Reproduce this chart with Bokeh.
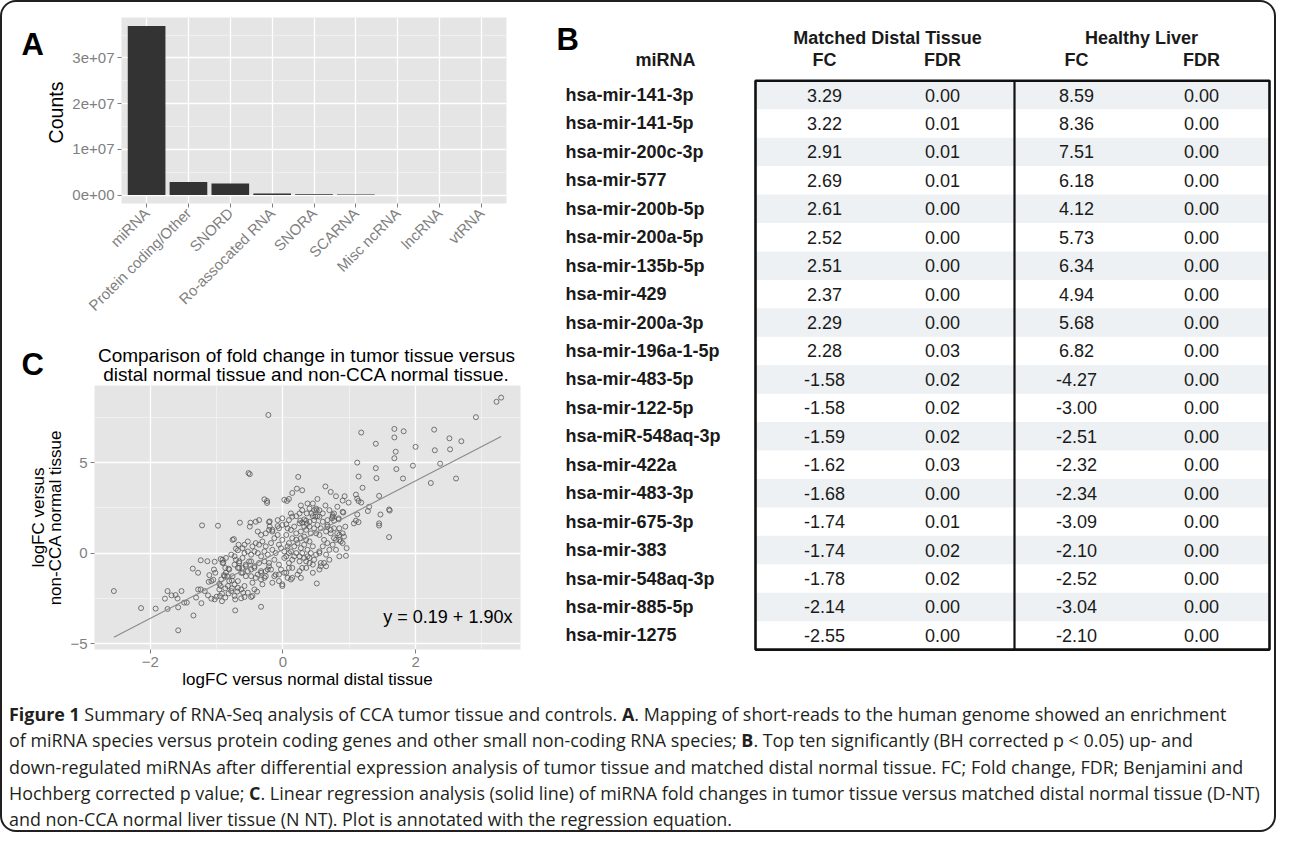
import math
from bokeh.plotting import figure
from bokeh.models import Range1d, FixedTicker, Label, Div
from bokeh.layouts import column, row
from bokeh.embed import file_html
from bokeh.resources import INLINE
from bokeh.core.properties import value

# ---------------- Panel A data ----------------
rna_classes = ["miRNA", "Protein coding/Other", "SNORD", "Ro-assocated RNA", "SNORA",
               "SCARNA", "Misc ncRNA", "lncRNA", "vtRNA"]
read_counts = [3.70e7, 2.86e6, 2.50e6, 3.5e5, 2.0e5, 1.0e5, 3.0e4, 2.5e4, 1.5e4]
count_ticks = [0, 1e7, 2e7, 3e7]
count_tick_labels = ["0e+00", "1e+07", "2e+07", "3e+07"]
count_minor_ticks = [0.5e7, 1.5e7, 2.5e7, 3.5e7]

# ---------------- Panel B data ----------------
table_groups = ["Matched Distal Tissue", "Healthy Liver"]
table_columns = ["miRNA", "FC", "FDR", "FC", "FDR"]
mirna = ["hsa-mir-141-3p", "hsa-mir-141-5p", "hsa-mir-200c-3p", "hsa-mir-577", "hsa-mir-200b-5p",
         "hsa-mir-200a-5p", "hsa-mir-135b-5p", "hsa-mir-429", "hsa-mir-200a-3p", "hsa-mir-196a-1-5p",
         "hsa-mir-483-5p", "hsa-mir-122-5p", "hsa-miR-548aq-3p", "hsa-mir-422a", "hsa-mir-483-3p",
         "hsa-mir-675-3p", "hsa-mir-383", "hsa-mir-548aq-3p", "hsa-mir-885-5p", "hsa-mir-1275"]
distal_fc = [3.29, 3.22, 2.91, 2.69, 2.61, 2.52, 2.51, 2.37, 2.29, 2.28,
             -1.58, -1.58, -1.59, -1.62, -1.68, -1.74, -1.74, -1.78, -2.14, -2.55]
distal_fdr = [0.00, 0.01, 0.01, 0.01, 0.00, 0.00, 0.00, 0.00, 0.00, 0.03,
              0.02, 0.02, 0.02, 0.03, 0.00, 0.01, 0.02, 0.02, 0.00, 0.00]
liver_fc = [8.59, 8.36, 7.51, 6.18, 4.12, 5.73, 6.34, 4.94, 5.68, 6.82,
            -4.27, -3.00, -2.51, -2.32, -2.34, -3.09, -2.10, -2.52, -3.04, -2.10]
liver_fdr = [0.00, 0.00, 0.00, 0.00, 0.00, 0.00, 0.00, 0.00, 0.00, 0.00,
             0.00, 0.00, 0.00, 0.00, 0.00, 0.00, 0.00, 0.00, 0.00, 0.00]

# ---------------- Panel C data ----------------
logfc_distal = [
    3.29, 3.22, 2.91, 2.69, 2.61, 2.52, 2.51, 2.37, 2.29, 2.28,
    -1.58, -1.58, -1.59, -1.62, -1.68, -1.74, -1.74, -1.78, -2.14, -2.55,
    -0.22, -0.52, -0.50, 0.23, 0.21, 0.14, 0.29, -0.28, -0.24, -0.24,
    0.02, 0.06, 0.09, 0.27, 0.14, 0.20, -0.65, -0.49, -0.20, 0.26,
    1.68, 1.82, 1.68, 1.18, 1.40, 2.00, 1.70, 1.68, 1.12, 1.96,
    1.40, 1.71, 1.14, 1.41, 1.81, 2.23, 1.20, 0.64, 0.72, 0.80,
    0.93, 0.90, 0.99, 1.10, 1.12, 1.14, 1.18, 1.45, 0.52, 0.64,
    0.50, 0.51, 1.30, 1.28, 0.90, 1.12, 1.47, 1.60, 1.61, 0.43,
    0.52, 0.75, 0.74, 0.84, 0.67, 1.10, 1.14, 0.32, 0.35, 0.47,
    -1.92, -1.53, -1.35, -1.49, -1.45, -1.31, -1.23, -1.28, -1.24, -1.13,
    -1.08, -1.00, -0.92, -0.95, -0.72, -0.33, -1.36, -1.28, -1.24, -1.14,
    -1.03, -0.94, -0.90, -1.04, -1.11, -1.02, -1.08, -1.12, -1.05, -0.96,
    -0.94, -0.96, -0.87, -0.82, -0.92, -0.87, -0.87, -0.82, -0.89, -0.84,
    -0.77, -0.73, -0.77, -0.68, -0.69, -0.60, -0.72, -0.63, -0.58, -0.48,
    -0.46, -0.39, -0.74, -0.67, -0.71, -1.22, -0.98, -0.50, -1.18, -1.03,
    -0.83, -0.78, -0.73, -0.63, -0.58, -0.53, -0.43, -0.73, -0.66, -0.61,
    -0.53, -0.48, -0.43, -0.33, -0.28, -0.23, -0.13, -0.06, 0.02, 0.07,
    -0.68, -0.61, -0.56, -0.48, -0.43, -0.38, -0.33, -0.26, -0.21, -0.06,
    -0.01, 0.09, 0.14, 0.22,
    -0.21, -0.20, -0.08, -0.06, -0.16, -0.01, 0.05, 0.07, 0.12, 0.17,
    0.25, 0.29, 0.36, 0.40, 0.45, 0.49, 0.55, 0.60, 0.67, 0.75,
    0.77, 0.84, 0.91, 0.94, 0.90, 0.82, 0.77, 0.85, 0.92, 0.96,
    0.95, 0.90, 0.62, 0.67, 0.55, 0.50, 0.60, 0.55, 0.45, 0.40,
    0.32, 0.27, 0.20, 0.14, 0.09, 0.05, -0.01, -0.06, -0.13, -0.18,
    -0.26, -0.31, -0.36, -0.41, -0.46, -0.43, -0.48, -0.53, -0.58, -0.61,
    -0.66, -0.71, -0.73, -0.76, -0.86, -0.91, -0.88, -0.93, -0.81, -0.21,
    -0.13, -0.06, 0.02, 0.09, 0.17, 0.25, 0.32, 0.40, 0.47, 0.57,
    0.65, 0.55, 0.45, 0.35, 0.25, 0.14, 0.05, -0.03, -0.11, -0.18,
    -0.26, -0.33, -0.41, -0.48, -0.56, -0.63, -0.68, -0.16, -0.01, 0.12,
    0.27, 0.51, -0.46, -0.31, -0.16, -0.08, -0.03, 0.02, 0.07, 0.12,
    0.17, 0.22, 0.27, 0.32, 0.37, 0.42, 0.50, 0.35, 0.42, 0.47,
    0.52, 0.20, 0.27, 0.35, -0.11, -0.16, -0.23, -0.28, -0.33, -0.38,
    -0.36, -0.28, -0.51, -0.56, -0.66, -0.76, -0.81, 0.05, 0.09, 0.20,
    0.29, 0.25, 0.14, 0.37, 0.70, 0.75, 0.70, 0.80, 0.85, 0.65,
    0.72, 0.85, 0.57, 0.40, 0.32, -0.58, -0.53, -0.61, -0.68, -0.78,
    -0.86, -0.91, -0.38, -0.33, -0.26, -0.21, -0.41, -0.36, 0.29, 0.36,
    0.40, 0.25, 0.12, 0.37, 0.47, 0.45, 0.55, 0.60, -0.01, -0.08,
    0.09, 0.77, 0.82, 0.70,
    1.45, 1.45, 1.07, 1.60, 0.85, 0.87, 0.80, 0.72, 0.62, 0.57,
    0.45, 0.35, 0.29, 0.40, 0.55, 0.65, 0.77, 0.67,
]
logfc_noncca = [
    8.59, 8.36, 7.51, 6.18, 4.12, 5.73, 6.34, 4.94, 5.68, 6.82,
    -4.27, -3.00, -2.51, -2.32, -2.34, -3.09, -2.10, -2.52, -3.04, -2.10,
    7.63, 4.42, 4.36, 4.21, 3.56, 3.32, 3.47, 2.97, 2.88, 2.77,
    2.94, 2.88, 2.99, 2.63, 2.01, 2.04, 1.68, 1.68, 1.75, 1.79,
    6.86, 6.73, 6.39, 6.66, 6.04, 5.87, 5.60, 5.24, 5.00, 4.83,
    4.69, 4.64, 4.23, 4.14, 4.12, 3.87, 3.61, 3.68, 3.38, 3.14,
    3.14, 2.90, 2.79, 3.23, 3.01, 2.88, 2.79, 3.16, 2.99, 2.63,
    2.46, 2.37, 2.56, 2.32, 2.28, 2.13, 2.13, 2.41, 2.35, 2.19,
    2.04, 2.10, 1.92, 1.92, 1.82, 1.79, 1.71, 1.86, 1.79, 1.82,
    -3.07, -2.10, -3.45, -2.74, -2.74, -2.46, -2.77, -2.01, -2.01, -2.34,
    -2.52, -2.41, -2.66, -2.37, -3.17, -2.97, -0.86, -1.09, -0.40, -0.45,
    -0.48, -0.33, -0.53, -0.91, -1.22, -1.09, -1.55, -1.59, -1.48, -1.70,
    -1.82, -2.01, -1.95, -2.23, -2.24, -2.46, -0.82, -0.86, -1.22, -1.28,
    -1.52, -1.73, -1.95, -1.92, -2.13, -2.19, -2.56, -2.50, -2.43, -2.43,
    -2.37, -2.13, 0.77, 0.46, 0.24, 1.53, 1.51, 1.46, -2.10, -2.56,
    -1.82, -2.10, -2.37, -2.01, -1.82, -2.19, -2.01, -0.18, -0.55, -0.82,
    -1.00, -1.28, -0.73, -1.09, -1.37, -0.91, -1.28, -1.19, -1.09, -1.37,
    -0.82, -1.09, -0.64, -0.46, -0.82, -1.19, -1.46, -1.00, -0.73, -1.55,
    -1.82, -0.82, -1.37, -1.19,
    1.71, 1.46, 1.49, 1.37, 1.19, 1.55, 1.59, 1.37, 1.28, 1.46,
    1.64, 1.68, 1.60, 1.73, 2.04, 2.01, 2.01, 1.73, 1.55, 2.01,
    1.79, 1.86, 2.24, 1.46, 1.09, 1.09, 0.82, 0.73, 0.91, 0.27,
    -0.15, 0.55, 0.73, 0.55, 1.00, 1.09, 0.37, 0.09, 0.37, 0.64,
    0.91, 1.19, 1.09, 0.82, 0.55, 1.00, 0.73, 0.46, 0.82, 0.55,
    0.37, 0.64, 0.46, 0.55, 0.37, 0.09, -0.09, 0.09, 0.00, -0.27,
    -0.46, -0.37, -0.64, 0.73, -1.09, -0.55, -1.28, -1.46, -0.91, -0.55,
    -0.37, -0.64, -0.27, -0.55, -0.18, -0.46, -0.27, -0.55, -0.37, -0.55,
    -0.73, -0.91, -1.09, -0.82, -1.00, -0.82, -1.09, -0.91, -1.19, -0.91,
    -1.28, -1.00, -1.37, -0.91, -1.28, -1.09, -1.55, -1.64, -1.73, -1.46,
    -1.37, -1.68, -1.64, -1.73, 1.28, 1.00, 0.27, 0.09, 0.37, 0.09,
    0.37, 0.55, 0.27, 0.46, 0.18, 0.00, -0.09, 1.28, 1.09, 1.37,
    1.55, 0.73, 0.82, 0.73, 0.00, 0.18, -0.09, 0.09, -0.18, 0.00,
    -0.55, -0.46, -0.46, -0.73, -0.82, -1.28, -1.55, -0.18, 0.00, 0.00,
    0.00, -0.18, -0.37, -0.18, 0.18, 0.46, -0.37, 0.18, -0.18, 1.19,
    1.28, 1.37, 1.37, 1.46, 1.46, 0.46, 0.64, 0.27, 0.15, -0.09,
    -0.27, -0.37, 1.19, 1.00, 1.09, 1.28, 1.73, 1.82, 2.37, 2.19,
    2.46, 2.19, 2.19, 2.74, 2.37, 2.74, 2.37, 2.19, 1.92, 1.82,
    1.82, 2.19, 2.56, 2.37,
    1.64, 1.52, 1.64, 0.88, 1.00, 0.64, 0.73, 1.09, -0.55, -0.73,
    -0.64, -0.46, -0.82, -0.27, 0.00, -0.09, 1.37, 1.46,
]
reg_intercept = 0.19
reg_slope = 1.90
x_ticks_c = [-2, 0, 2]
x_minor_c = [-1, 1, 3]
y_ticks_c = [-5, 0, 5]
y_minor_c = [-2.5, 2.5, 7.5]

# ---------------- styling ----------------
FONT = "Liberation Sans"
AXIS_GREY = "#7f7f7f"
PANEL_BG = "#e5e5e5"


def gg_style(p):
    p.background_fill_color = PANEL_BG
    p.border_fill_color = None
    p.outline_line_color = None
    for ax in p.axis:
        ax.axis_line_color = None
        ax.major_tick_line_color = AXIS_GREY
        ax.major_tick_line_width = 1
        ax.major_tick_out = 4
        ax.major_tick_in = 0
        ax.minor_tick_line_color = None
        ax.major_label_text_color = AXIS_GREY
        ax.major_label_text_font = FONT
        ax.major_label_text_font_size = "15px"
        ax.major_label_standoff = 3
    for g in p.grid:
        g.grid_line_color = "white"
        g.grid_line_width = 1.3
        g.minor_grid_line_color = "#f3f3f3"
        g.minor_grid_line_width = 0.8


def blank_fig(x0, x1, y0, y1):
    """A figure whose frame fills it, with page-pixel coordinates (y downwards)."""
    p = figure(width=int(x1 - x0), height=int(y1 - y0), x_range=Range1d(x0, x1),
               y_range=Range1d(y1, y0), x_axis_type=None, y_axis_type=None, min_border=0,
               output_backend="svg", toolbar_location=None, frame_align=False)
    p.outline_line_color = None
    p.background_fill_color = None
    p.border_fill_color = None
    return p


def put_text(p, xs, ys, texts, size, bold=False, align="center", baseline="middle",
             angle=0.0, color="black"):
    p.text(x=xs, y=ys, text=texts, text_font=value(FONT), text_font_size=value(size),
           text_font_style="bold" if bold else "normal", text_align=align,
           text_baseline=baseline, angle=angle, text_color=color)


OX, OY = 10, 10
LW = 65          # width of the left label strip
WP = 465         # width of panels A and C
HA = 320
HT = 63          # title strip for C
HC = 307
WB, HB = 742, 690

# ---------------- left label strip (A, Counts, C, y label of C) ----------------
strip = blank_fig(OX, OX + LW, OY, OY + HB)
put_text(strip, [29], [52], ["A"], "31px", bold=True, align="left", baseline="alphabetic")
put_text(strip, [63], [120], ["Counts"], "19.5px", angle=math.pi / 2)
put_text(strip, [29], [372], ["C"], "31px", bold=True, align="left", baseline="alphabetic")
put_text(strip, [45.5, 62.5], [525, 525], ["logFC versus", "non-CCA normal tissue"], "17px",
         angle=math.pi / 2)

# ---------------- Panel A ----------------
xa_range = (0.4, 9.6)
ya_range = (-0.185e7, 3.885e7)
pa = figure(width=WP, height=HA, x_range=Range1d(*xa_range), y_range=Range1d(*ya_range),
            output_backend="svg", toolbar_location=None, frame_align=False,
            min_border_left=54, min_border_right=26, min_border_top=15, min_border_bottom=115)
positions = list(range(1, len(rna_classes) + 1))
pa.vbar(x=positions, top=read_counts, bottom=0, width=0.9, fill_color="#333333", line_color=None)
pa.xaxis.ticker = FixedTicker(ticks=positions)
pa.xaxis.major_label_overrides = {p: n for p, n in zip(positions, rna_classes)}
pa.xaxis.major_label_orientation = math.pi / 4
pa.yaxis.ticker = FixedTicker(ticks=count_ticks, minor_ticks=count_minor_ticks)
pa.yaxis.major_label_overrides = {t: s for t, s in zip(count_ticks, count_tick_labels)}
gg_style(pa)

# ---------------- Title strip for C ----------------
ty0 = OY + HA
tstrip = blank_fig(OX + LW, OX + LW + WP, ty0, ty0 + HT)
put_text(tstrip, [314, 314], [362.7, 381.7],
         ["Comparison of fold change in tumor tissue versus",
          "distal normal tissue and non-CCA normal tissue."], "19px")

# ---------------- Panel C ----------------
xc_range = (-2.842, 3.582)
yc_range = (-5.33, 9.26)
pc = figure(width=WP, height=HC, x_range=Range1d(*xc_range), y_range=Range1d(*yc_range),
            output_backend="svg", toolbar_location=None, frame_align=False,
            min_border_left=25, min_border_right=12, min_border_top=0, min_border_bottom=43)
pc.xaxis.ticker = FixedTicker(ticks=x_ticks_c, minor_ticks=x_minor_c)
pc.yaxis.ticker = FixedTicker(ticks=y_ticks_c, minor_ticks=y_minor_c)
gg_style(pc)
pc.xaxis.axis_label = "logFC versus normal distal tissue"
pc.xaxis.axis_label_text_font = FONT
pc.xaxis.axis_label_text_font_size = "17px"
pc.xaxis.axis_label_text_font_style = "normal"
pc.xaxis.axis_label_text_color = "black"
pc.xaxis.axis_label_standoff = 0
pc.scatter(x=logfc_distal, y=logfc_noncca, marker="circle", size=5, fill_color=None,
           line_color="#555555", line_width=0.8)
line_x = [min(logfc_distal), max(logfc_distal)]
line_y = [reg_intercept + reg_slope * v for v in line_x]
pc.line(x=line_x, y=line_y, line_color="#8a8a8a", line_width=1.1)
pc.add_layout(Label(x=3.46, y=-3.56, text=f"y = {reg_intercept:.2f} + {reg_slope:.2f}x",
                    text_font=FONT, text_font_size="18px", text_align="right",
                    text_baseline="middle", text_color="black"))

# ---------------- Panel B (table) ----------------
BX0 = OX + LW + WP
pb = blank_fig(BX0, BX0 + WB, OY, OY + HB)

BOX_L, BOX_M, BOX_R = 763, 1022, 1277
TOP, ROW_H = 88.3, 28.44
NAME_X = 573
COL_X = [673, 832, 950, 1084, 1209]
GROUP_X = [895, 1149]
n = len(mirna)
row_top = [TOP + i * ROW_H for i in range(n)]
row_mid = [t + ROW_H / 2 for t in row_top]
shaded = [i for i in range(n) if i % 2 == 0]
pb.quad(left=BOX_L, right=BOX_R, top=[row_top[i] for i in shaded],
        bottom=[row_top[i] + ROW_H for i in shaded], fill_color="#edf1f3", line_color=None)
pb.quad(left=BOX_L, right=BOX_R, top=TOP, bottom=TOP + n * ROW_H, fill_color=None,
        line_color="#111111", line_width=2.6)
pb.segment(x0=BOX_M, y0=TOP, x1=BOX_M, y1=TOP + n * ROW_H, line_color="#111111", line_width=2.2)

TXT = "#1a1a1a"
put_text(pb, [BX0 + 24], [47], ["B"], "31px", bold=True, align="left", baseline="alphabetic")
put_text(pb, GROUP_X, [45.5] * 2, table_groups, "18px", bold=True, color=TXT)
put_text(pb, COL_X, [67] * len(COL_X), table_columns, "18px", bold=True, color=TXT)
put_text(pb, [NAME_X] * n, row_mid, mirna, "18px", bold=True, align="left", color=TXT)
for cx, vals in zip(COL_X[1:], [distal_fc, distal_fdr, liver_fc, liver_fdr]):
    put_text(pb, [cx] * n, row_mid, [f"{v:.2f}" for v in vals], "18px", color=TXT)

# ---------------- Caption ----------------
caption_html = (
    '<div style="font-family:\'Open Sans\'; font-size:17.9px; line-height:26.3px; color:#231f20;'
    ' padding:9px 0 0 7px; white-space:nowrap;">'
    '<b>Figure 1</b> Summary of RNA-Seq analysis of CCA tumor tissue and controls. <b>A</b>. '
    'Mapping of short-reads to the human genome showed an enrichment<br>'
    'of miRNA species versus protein coding genes and other small non-coding RNA species; '
    '<b>B</b>. Top ten significantly (BH corrected p &lt; 0.05) up- and<br>'
    'down-regulated miRNAs after differential expression analysis of tumor tissue and matched '
    'distal normal tissue. FC; Fold change, FDR; Benjamini and<br>'
    'Hochberg corrected p value; <b>C</b>. Linear regression analysis (solid line) of miRNA fold '
    'changes in tumor tissue versus matched distal normal tissue (D-NT)<br>'
    'and non-CCA normal liver tissue (N NT). Plot is annotated with the regression equation.'
    '</div>'
)
cap = Div(text=caption_html, width=LW + WP + WB, height=138, margin=0)

left = row(strip, column(pa, tstrip, pc))
layout = column(row(left, pb), cap,
                styles={"border": "2px solid #231f20", "border-radius": "16px"})

open("out.html", "w").write(file_html(layout, INLINE))
